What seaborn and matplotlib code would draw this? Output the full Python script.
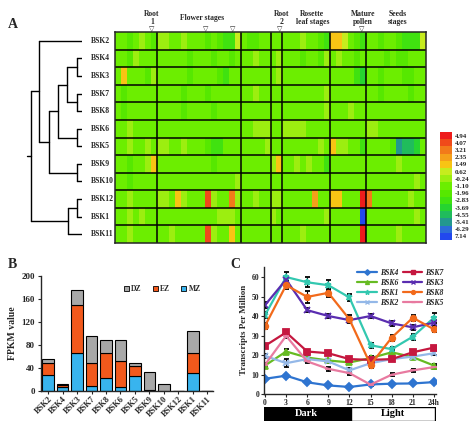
import numpy as np
import pandas as pd
import matplotlib
matplotlib.use('Agg')
import matplotlib.pyplot as plt
import seaborn as sns
from matplotlib.colors import ListedColormap
from matplotlib.lines import Line2D
from matplotlib.patches import Patch
import matplotlib.transforms as mtrans

sns.set_style('ticks')
plt.rcParams['font.family'] = ['Liberation Serif', 'DejaVu Sans']
plt.rcParams['font.weight'] = 'bold'
plt.rcParams['axes.linewidth'] = 1.0

# ---------------- data: panel A (heatmap, colour-level codes 0..e) ----------------
genes = ['BSK2', 'BSK4', 'BSK3', 'BSK7', 'BSK8', 'BSK6', 'BSK5',
         'BSK9', 'BSK10', 'BSK12', 'BSK1', 'BSK11']
level_labels = ['4.94', '4.07', '3.21', '2.35', '1.49', '0.62', '-0.24', '-1.10',
                '-1.96', '-2.83', '-3.69', '-4.55', '-5.41', '-6.29', '7.14']
level_colors = ['#ee1c1c', '#f04a1a', '#f27a1a', '#f5a01a', '#f8c414', '#c6ec1e',
                '#9cee10', '#6cee00', '#56e800', '#40e210', '#26d430', '#20bc5c',
                '#23988e', '#2c6cd8', '#2248ee']
group_sizes = [7, 14, 5, 2, 8, 6, 10]
heat_rows = [
    '7787678' '66776777878995' '78877' '77' '77767789' '445789' '7787789995',
    '7786777' '77777877787787' '77677' '76' '77787786' '767787' '7778788777',
    '7477786' '77777877778977' '77777' '76' '77777777' '77779a' '7787778877',
    '7877777' '77778777877777' '77677' '77' '77777776' '777777' '7787777877',
    '7877777' '77778777787777' '77777' '77' '77777776' '777677' '7777777777',
    '7767777' '77777777777777' '77666' '77' '66667777' '777777' '6677777777',
    '7767767' '66776777899777' '77776' '77' '77777767' '466779' '77778cbba7',
    '7787764' '77777777787777' '77777' '64' '77676779' '777777' '7777767777',
    '7787777' '77777777777776' '77777' '77' '77777777' '777777' '7777777767',
    '7767777' '66746777167726' '77677' '66' '77777377' '447770' '2777777677',
    '7767677' '77777777776667' '77777' '67' '77777776' '77777e' '7777777767',
    '7767777' '77677777167747' '77777' '77' '77767777' '777770' '7777767777',
]
# dendrogram merges: (left node, right node, height); leaves are 0..11
merges = [(1, 2, 5), (3, 4, 5), (5, 6, 5), (7, 8, 5), (9, 10, 5),
          (12, 13, 15), (17, 14, 24), (18, 15, 33), (0, 19, 43),
          (16, 11, 14), (20, 21, 51)]
root_stub = 55

# ---------------- data: panel B ----------------
bsk_b = ['BSK2', 'BSK4', 'BSK3', 'BSK7', 'BSK8', 'BSK6', 'BSK5',
         'BSK9', 'BSK10', 'BSK12', 'BSK1', 'BSK11']
mz = [27, 7, 66, 9, 23, 7, 26, 1, 0, 0, 31, 0]
ez = [21, 3, 84, 40, 43, 46, 18, 0, 0, 0, 35, 0]
dz = [8, 3, 25, 46, 22, 35, 5, 32, 12, 0, 38, 0]

# ---------------- data: panel C ----------------
hours = [0, 3, 6, 9, 12, 15, 18, 21, 24]
hour_labels = ['0', '3', '6', '9', '12', '15', '18', '21', '24h']
tpm = {
    'BSK4': [7.8, 9.4, 6.0, 4.4, 3.6, 4.9, 5.3, 5.4, 6.1],
    'BSK6': [14.6, 21.8, 18.7, 17.2, 16.2, 18.4, 21.4, 18.9, 14.6],
    'BSK1': [40.5, 60.0, 57.3, 55.8, 49.5, 25.0, 23.0, 29.4, 39.1],
    'BSK2': [19.6, 15.8, 17.9, 16.7, 12.1, 15.8, 17.9, 19.2, 20.9],
    'BSK7': [24.7, 31.6, 21.8, 20.9, 17.9, 17.5, 17.9, 21.4, 23.8],
    'BSK3': [45.6, 58.7, 43.0, 40.0, 37.9, 40.0, 36.2, 34.2, 36.6],
    'BSK8': [34.9, 55.8, 49.8, 51.9, 38.3, 15.0, 28.9, 39.1, 33.2],
    'BSK5': [15.0, 29.8, 16.7, 12.9, 10.7, 4.8, 9.9, 12.1, 13.8],
}
tpm_err = {
    'BSK4': [0.5, 0.6, 0.5, 0.5, 0.5, 0.4, 0.4, 0.5, 0.5],
    'BSK6': [0.8, 1.5, 1.0, 1.0, 1.0, 1.0, 1.0, 1.0, 1.0],
    'BSK1': [1.5, 2.5, 2.5, 2.5, 2.0, 1.2, 1.2, 1.5, 2.5],
    'BSK2': [1.0, 2.0, 1.0, 1.0, 1.0, 1.0, 1.0, 1.0, 1.0],
    'BSK7': [1.0, 1.0, 1.0, 1.0, 1.0, 1.0, 1.0, 1.0, 1.0],
    'BSK3': [1.5, 1.5, 1.0, 1.0, 1.0, 1.2, 1.2, 1.2, 1.5],
    'BSK8': [1.5, 2.0, 3.0, 2.0, 2.0, 1.5, 1.5, 1.5, 1.5],
    'BSK5': [0.8, 1.0, 1.0, 1.0, 0.8, 0.5, 0.8, 0.8, 0.8],
}
line_styles = {
    'BSK4': ('#2e74d0', 'D'), 'BSK6': ('#66bb22', '^'), 'BSK1': ('#33c8b0', '*'),
    'BSK2': ('#94b8e8', 'x'), 'BSK7': ('#c5173f', 's'), 'BSK3': ('#5a2db0', 'x'),
    'BSK8': ('#f26a1b', 'o'), 'BSK5': ('#e87aa0', '_'),
}
phases = ['Dark', 'Light']
phase_start = [-0.3, 12.2]
phase_len = [12.5, 12.0]

W, H = 474, 429
fig = plt.figure(figsize=(W / 100, H / 100), dpi=100)


def px_axes(x0, y0, x1, y1):
    return fig.add_axes([x0 / W, 1 - y1 / H, (x1 - x0) / W, (y1 - y0) / H])


# ================= Panel A =================
axA = px_axes(115, 32, 426, 243)
mat = np.array([[int(c, 16) for c in row] for row in heat_rows])
cmap = ListedColormap(level_colors)
sns.heatmap(mat, cmap=cmap, vmin=-0.5, vmax=14.5, cbar=False, ax=axA,
            xticklabels=False, yticklabels=genes, linewidths=0)
axA.tick_params(axis='y', length=0, pad=17, labelsize=5.5)
plt.setp(axA.get_yticklabels(), ha='left', rotation=0, fontweight='bold')
for b in np.cumsum(group_sizes)[:-1]:
    axA.axvline(b, color='black', lw=1.1)
for r in range(1, len(genes)):
    axA.axhline(r, color='black', lw=1.1)
for s in axA.spines.values():
    s.set_visible(True)
    s.set_linewidth(1.1)

# top annotations
trans = mtrans.blended_transform_factory(axA.transData, axA.transAxes)
for xc in [6.2, 15.2, 19.7, 27.6, 41.3]:
    axA.text(xc, 1.014, '\u25bd', transform=trans, ha='center', va='center',
             fontsize=5, family='DejaVu Sans', fontweight='bold')
top_labels = [(6.2, 'Root\n1'), (27.8, 'Root\n2'), (33.0, 'Rosette\nleaf stages'),
              (41.5, 'Mature\npollen'), (47.2, 'Seeds\nstages')]
for xc, t in top_labels:
    axA.text(xc, 1.03, t, transform=trans, ha='center', va='bottom',
             fontsize=5.5, linespacing=1.0)
axA.text(14.5, 1.064, 'Flower stages', transform=trans, ha='center', va='center',
         fontsize=5.5)

# dendrogram
axD = px_axes(20, 32, 82, 243)
ypos = {i: i + 0.5 for i in range(len(genes))}
hgt = {i: 0 for i in range(len(genes))}
node = len(genes)
for a, b, h in merges:
    for c in (a, b):
        axD.plot([hgt[c], h], [ypos[c], ypos[c]], color='black', lw=1.0)
    axD.plot([h, h], [ypos[a], ypos[b]], color='black', lw=1.0)
    ypos[node] = (ypos[a] + ypos[b]) / 2
    hgt[node] = h
    node += 1
axD.plot([hgt[node - 1], root_stub], [ypos[node - 1]] * 2, color='black', lw=1.0)
axD.set_xlim(62, 0)
axD.set_ylim(len(genes), 0)
axD.axis('off')

# colour key
axK = px_axes(440, 132, 452, 240)
sns.heatmap(np.arange(15).reshape(-1, 1), cmap=cmap, vmin=-0.5, vmax=14.5,
            cbar=False, ax=axK, xticklabels=False, yticklabels=level_labels)
axK.yaxis.tick_right()
axK.tick_params(axis='y', length=0, pad=2, labelsize=5)
plt.setp(axK.get_yticklabels(), rotation=0, fontweight='bold')

# ================= Panel B =================
axB = px_axes(41, 276, 213, 391)
df_b = pd.DataFrame({'MZ': mz, 'EZ': ez, 'DZ': dz}, index=bsk_b)
colors_b = {'MZ': '#38b4ee', 'EZ': '#f2591c', 'DZ': '#a8a8a8'}
df_b.plot(kind='bar', stacked=True, ax=axB, width=0.8, edgecolor='black',
          linewidth=0.8, color=[colors_b[c] for c in df_b.columns], legend=False)
axB.set_xlim(-0.5, 11.4)
axB.set_ylim(0, 200)
axB.set_yticks([0, 40, 80, 120, 160, 200])
axB.set_ylabel('FPKM value', fontsize=7, fontweight='bold', labelpad=3)
axB.set_xlabel('')
axB.tick_params(axis='y', labelsize=6.5, length=2.5, width=0.8, pad=2)
axB.tick_params(axis='x', labelsize=6, length=2, width=0.8, pad=1)
plt.setp(axB.get_xticklabels(), rotation=45, ha='right', rotation_mode='anchor',
         fontweight='bold')
plt.setp(axB.get_yticklabels(), fontweight='bold')
sns.despine(ax=axB)
hb = [Patch(facecolor=colors_b[k], edgecolor='black', lw=0.6, label=k) for k in ['DZ', 'EZ', 'MZ']]
axB.legend(handles=hb, ncol=3, frameon=False, fontsize=5.5, handlelength=0.7,
           handleheight=0.7, handletextpad=0.3, columnspacing=1.4,
           loc='upper right', bbox_to_anchor=(0.97, 0.98))

# ================= Panel C =================
axC = px_axes(264.3, 266.5, 436, 394)
handles = []
for g in ['BSK4', 'BSK6', 'BSK1', 'BSK2', 'BSK7', 'BSK3', 'BSK8', 'BSK5']:
    col, mk = line_styles[g]
    ms = 5 if mk == '*' else 4
    axC.errorbar(hours, tpm[g], yerr=tpm_err[g], color=col, marker=mk,
                 markersize=ms, mew=1.3, lw=1.6,
                 ecolor='black', elinewidth=0.8, capsize=1.8)
    handles.append(Line2D([], [], color=col, marker=mk, markersize=ms * 0.7,
                          mew=1.0, lw=1.6, label=g))
axC.set_xlim(-0.1, 24.3)
axC.set_ylim(0, 65.4)
axC.set_yticks([0, 10, 20, 30, 40, 50, 60])
axC.set_xticks(hours)
axC.set_xticklabels(hour_labels)
axC.set_ylabel('Transcripts Per Million', fontsize=6.5, fontweight='bold', labelpad=3)
axC.tick_params(labelsize=5.5, length=2, width=0.8, pad=1.5)
plt.setp(axC.get_xticklabels() + axC.get_yticklabels(), fontweight='bold')
sns.despine(ax=axC)
axC.legend(handles=handles, ncol=2, frameon=False, loc='upper right',
           bbox_to_anchor=(450 / W, 1 - 262 / H), bbox_transform=fig.transFigure,
           prop={'family': 'Liberation Serif', 'style': 'italic', 'weight': 'bold', 'size': 5.5},
           handlelength=2.6, handletextpad=0.3, columnspacing=0.6, labelspacing=0.25)

# dark / light bar
axT = fig.add_axes([axC.get_position().x0, 1 - 421 / H, axC.get_position().width, 14 / H])
axT.barh([0, 0], phase_len, left=phase_start, height=1,
         color=['black', 'white'], edgecolor='black', lw=1.0)
for p, s, l, tc in zip(phases, phase_start, phase_len, ['white', 'black']):
    axT.text(s + l / 2, 0, p, ha='center', va='center', color=tc,
             fontsize=7.5, fontweight='bold')
axT.set_xlim(axC.get_xlim())
axT.set_ylim(-0.5, 0.5)
axT.axis('off')

# panel letters
fig.text(13 / W, 1 - 25 / H, 'A', fontsize=10, fontweight='bold', ha='center', va='center')
fig.text(12 / W, 1 - 264 / H, 'B', fontsize=10, fontweight='bold', ha='center', va='center')
fig.text(235 / W, 1 - 264 / H, 'C', fontsize=10, fontweight='bold', ha='center', va='center')

fig.savefig('out.png', dpi=100)
